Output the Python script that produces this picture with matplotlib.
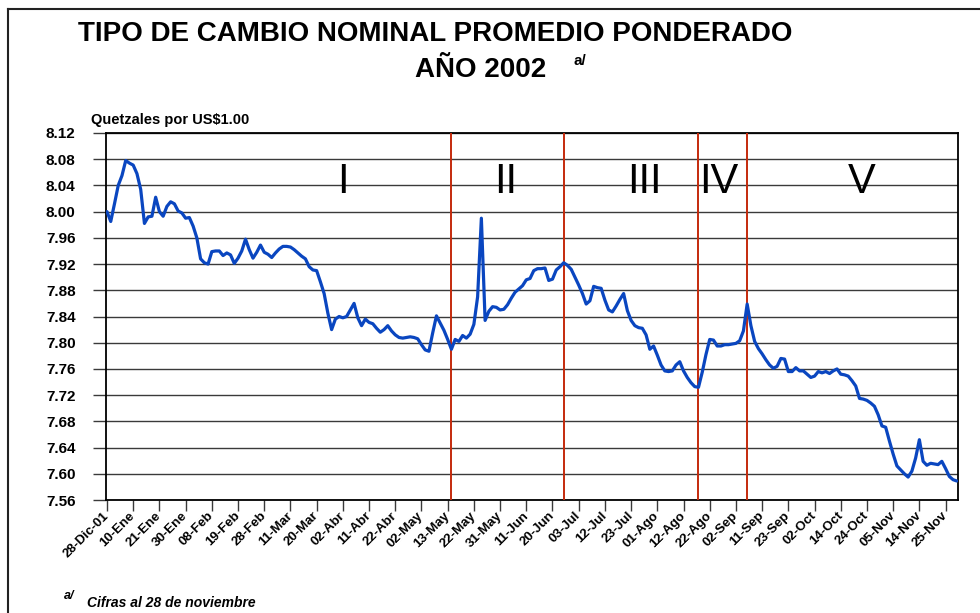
import numpy as np
import matplotlib
matplotlib.use("Agg")
import matplotlib.pyplot as plt
from matplotlib.lines import Line2D
import matplotlib.transforms as mtransforms

# Etiquetas del eje de categorías (una cada 7 días hábiles)
tick_labels = [
    "28-Dic-01", "10-Ene", "21-Ene", "30-Ene", "08-Feb", "19-Feb", "28-Feb",
    "11-Mar", "20-Mar", "02-Abr", "11-Abr", "22-Abr", "02-May", "13-May",
    "22-May", "31-May", "11-Jun", "20-Jun", "03-Jul", "12-Jul", "23-Jul",
    "01-Ago", "12-Ago", "22-Ago", "02-Sep", "11-Sep", "23-Sep", "02-Oct",
    "14-Oct", "24-Oct", "05-Nov", "14-Nov", "25-Nov",
]
label_step = 7

# Tipo de cambio diario (quetzales por US$1.00), días hábiles
rate = [
    8.000, 7.985, 8.012, 8.040, 8.055, 8.078, 8.074, 8.071, 8.058, 8.034,
    7.982, 7.992, 7.993, 8.022, 8.000, 7.993, 8.008, 8.015, 8.012, 8.001,
    7.998, 7.990, 7.991, 7.978, 7.960, 7.928, 7.922, 7.920, 7.939, 7.940,
    7.940, 7.933, 7.937, 7.934, 7.921, 7.929, 7.940, 7.958, 7.942, 7.929,
    7.938, 7.949, 7.938, 7.935, 7.930, 7.937, 7.943, 7.947, 7.947, 7.946,
    7.942, 7.937, 7.932, 7.928, 7.916, 7.911, 7.910, 7.893, 7.875, 7.845,
    7.820, 7.836, 7.840, 7.838, 7.840, 7.850, 7.860, 7.838, 7.826, 7.836,
    7.831, 7.829, 7.822, 7.816, 7.820, 7.826, 7.818, 7.812, 7.808, 7.807,
    7.808, 7.809, 7.808, 7.806, 7.797, 7.789, 7.787, 7.815, 7.841, 7.830,
    7.819, 7.805, 7.790, 7.805, 7.802, 7.811, 7.807, 7.813, 7.828, 7.870,
    7.990, 7.834, 7.848, 7.855, 7.854, 7.850, 7.851, 7.858, 7.868, 7.877,
    7.882, 7.887, 7.896, 7.898, 7.910, 7.913, 7.913, 7.914, 7.895, 7.897,
    7.911, 7.916, 7.922, 7.918, 7.912, 7.900, 7.888, 7.875, 7.859, 7.864,
    7.886, 7.884, 7.883, 7.865, 7.850, 7.847, 7.856, 7.866, 7.875, 7.849,
    7.834, 7.826, 7.823, 7.822, 7.812, 7.790, 7.795, 7.781, 7.766, 7.757,
    7.756, 7.757, 7.766, 7.771, 7.757, 7.747, 7.739, 7.733, 7.732, 7.755,
    7.782, 7.805, 7.804, 7.795, 7.795, 7.797, 7.797, 7.798, 7.799, 7.803,
    7.818, 7.859, 7.826, 7.802, 7.791, 7.783, 7.774, 7.766, 7.761, 7.764,
    7.776, 7.775, 7.756, 7.756, 7.762, 7.757, 7.757, 7.752, 7.747, 7.749,
    7.756, 7.754, 7.756, 7.753, 7.757, 7.760, 7.752, 7.751, 7.749, 7.742,
    7.734, 7.715, 7.714, 7.712, 7.708, 7.703, 7.690, 7.673, 7.671, 7.650,
    7.630, 7.612, 7.606, 7.600, 7.595, 7.604, 7.624, 7.652, 7.619, 7.613,
    7.616, 7.615, 7.614, 7.619, 7.608, 7.596, 7.591, 7.589,
]

# Separadores de periodos y sus rótulos
period_breaks = [92, 122, 158, 171]
period_names = ["I", "II", "III", "IV", "V"]
period_label_x = [63, 106.5, 143.5, 163.5, 201.5]
period_label_y = 8.028

y_min, y_max, y_step = 7.56, 8.12, 0.04

plt.rcParams['font.family'] = ['Liberation Sans', 'DejaVu Sans']

W, H = 980, 613
fig = plt.figure(figsize=(W / 100, H / 100), dpi=100)
fig.patch.set_facecolor('white')


def fx(px):
    return px / W


def fy(py):
    return 1 - py / H


ax = fig.add_axes([fx(105.5), fy(500), fx(958.3) - fx(105.5), fy(133) - fy(500)])

x = np.arange(len(rate))
ax.plot(x, rate, color='#0a46c0', lw=2.3, solid_joinstyle='round',
        solid_capstyle='round', zorder=4)

for b in period_breaks:
    ax.axvline(b, color='#c42a0c', lw=1.4, zorder=3)

for name, px in zip(period_names, period_label_x):
    ax.text(px, period_label_y, name, ha='center', va='baseline',
            fontsize=30, color='black', zorder=5)

ax.set_ylim(y_min, y_max)
yticks = np.round(np.arange(y_min, y_max + 1e-9, y_step), 2)
ax.set_yticks(yticks)
ax.set_yticklabels([f"{v:.2f}" for v in yticks], fontsize=11, fontweight='bold')
ax.yaxis.grid(True, color='#3a3a3a', lw=1.0, zorder=1)
ax.set_axisbelow(True)

ax.set_xlim(-0.4, len(rate) - 1 + 0.4)
ax.set_xticks(np.arange(len(tick_labels)) * label_step)
ax.set_xticklabels(tick_labels, rotation=45, ha='right', va='center',
                   rotation_mode='anchor', fontsize=9.5, fontweight='bold')
offset = mtransforms.ScaledTranslation(-5 / 100, -4 / 100, fig.dpi_scale_trans)
for lab in ax.get_xticklabels():
    lab.set_transform(lab.get_transform() + offset)

ax.tick_params(axis='y', direction='out', length=9.5, width=1.0,
               color='#3a3a3a', pad=12)
ax.tick_params(axis='x', direction='out', length=8, width=1.0,
               color='#3a3a3a', pad=2)

for side in ['left', 'right', 'top', 'bottom']:
    ax.spines[side].set_color('black')
    ax.spines[side].set_linewidth(1.3)

# Títulos
fig.text(fx(435), fy(41), "TIPO DE CAMBIO NOMINAL PROMEDIO PONDERADO",
         ha='center', va='baseline', fontsize=20, fontweight='bold')
fig.text(fx(481), fy(77), "AÑO 2002", ha='center', va='baseline',
         fontsize=20, fontweight='bold')
fig.text(fx(573), fy(65), "a/", ha='left', va='baseline',
         fontsize=11, fontweight='bold')

fig.text(fx(91), fy(124), "Quetzales por US$1.00", ha='left', va='baseline',
         fontsize=10.5, fontweight='bold')

# Nota
fig.text(fx(64), fy(599), "a/", ha='left', va='baseline',
         fontsize=9, fontweight='bold', style='italic')
fig.text(fx(87), fy(607), "Cifras al 28 de noviembre", ha='left',
         va='baseline', fontsize=10, fontweight='bold', style='italic')

# Marco exterior
fig.add_artist(Line2D([fx(8), fx(8)], [fy(9), 0], transform=fig.transFigure,
                      color='#222222', lw=1.5))
fig.add_artist(Line2D([fx(8), 1], [fy(9), fy(9)], transform=fig.transFigure,
                      color='#222222', lw=1.5))

fig.savefig("out.png", dpi=100)
